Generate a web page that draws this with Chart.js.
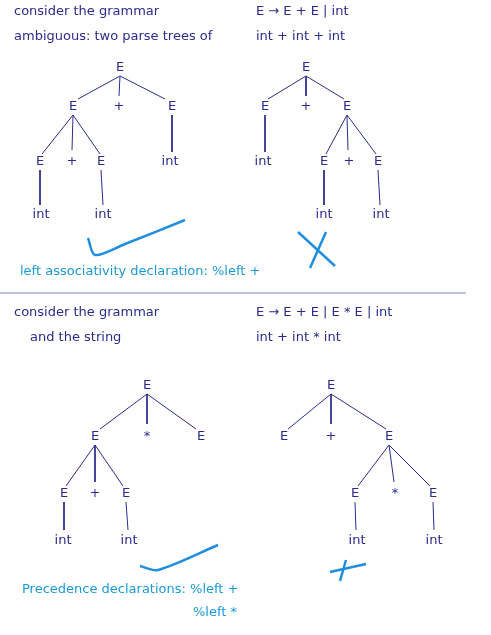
<!DOCTYPE html>
<html><head><meta charset="utf-8">
<script src="https://cdn.jsdelivr.net/npm/chart.js@4"></script>
<style>html,body{margin:0;background:#fff}#wrap{width:491px;height:635px}</style>
</head><body><div id="wrap"><canvas id="c"></canvas></div>
<script>
// text labels: [text, x, y, align, color]
const navy = '#2b2b8c', cyan = '#1a9ad6';
const texts = [
  ['consider the grammar', 14, 12, 'left', navy],
  ['E \u2192 E + E | int', 256, 12, 'left', navy],
  ['ambiguous: two parse trees of', 14, 37, 'left', navy],
  ['int + int + int', 256, 37, 'left', navy],
  ['left associativity declaration: %left +', 20, 272, 'left', cyan],
  ['consider the grammar', 14, 313, 'left', navy],
  ['E \u2192 E + E | E * E | int', 256, 313, 'left', navy],
  ['and the string', 30, 338, 'left', navy],
  ['int + int * int', 256, 338, 'left', navy],
  ['Precedence declarations: %left +', 22, 590, 'left', cyan],
  ['%left *', 193, 613, 'left', cyan]
];
// tree nodes
const nodes = [
  ['E',120,68],['E',73,107],['+',119,107],['E',172,107],['E',40,162],['+',72,162],['E',101,162],['int',170,162],['int',41,215],['int',103,215],
  ['E',306,68],['E',265,107],['+',306,107],['E',347,107],['int',263,162],['E',324,162],['+',349,162],['E',378,162],['int',324,215],['int',381,215],
  ['E',147,386],['E',95,437],['*',147,437],['E',201,437],['E',64,494],['+',95,494],['E',126,494],['int',63,541],['int',129,541],
  ['E',331,386],['E',284,437],['+',331,437],['E',389,437],['E',355,494],['*',395,494],['E',433,494],['int',357,541],['int',434,541]
];
// tree edges as polylines
const edges = [
  [[120,76],[78,99]],[[120,76],[119,96]],[[120,76],[165,99]],
  [[73,115],[42,154]],[[73,115],[72,150]],[[73,115],[100,154]],[[172,115],[172,152]],
  [[40,170],[40,205]],[[101,170],[103,205]],
  [[306,76],[268,99]],[[306,76],[306,96]],[[306,76],[344,99]],
  [[265,115],[265,152]],[[347,115],[326,154]],[[347,115],[348,150]],[[347,115],[376,154]],
  [[324,170],[324,205]],[[378,170],[380,205]],
  [[147,394],[100,429]],[[147,394],[147,424]],[[147,394],[196,429]],
  [[95,445],[66,486]],[[95,445],[95,482]],[[95,445],[123,486]],
  [[64,502],[64,530]],[[126,502],[128,530]],
  [[331,394],[288,429]],[[331,394],[331,424]],[[331,394],[386,429]],
  [[389,445],[358,486]],[[389,445],[394,482]],[[389,445],[430,486]],
  [[355,502],[356,530]],[[433,502],[434,530]]
];
// annotation marks
const marks = [
  [[88,238],[95,255],[125,244],[185,220]],
  [[298,232],[335,266]],[[326,232],[310,268]],
  [[140,566],[158,570],[218,545]],
  [[330,572],[366,564]],[[346,560],[340,581]]
];
const rule = [[0,293],[466,293]];

const pt = p => ({x:p[0], y:p[1]});
const datasets = [];
edges.forEach(e => datasets.push({data:e.map(pt), showLine:true, borderColor:navy, borderWidth:1, pointRadius:0}));
marks.forEach(m => datasets.push({data:m.map(pt), showLine:true, borderColor:'#1f8ee0', borderWidth:2.5, pointRadius:0, tension:0.3}));
datasets.push({data:rule.map(pt), showLine:true, borderColor:'#7a86b8', borderWidth:1, pointRadius:0});

const textPlugin = {
  id:'texts',
  afterDatasetsDraw(chart){
    const {ctx, scales:{x,y}} = chart;
    ctx.save();
    ctx.font = '13px "DejaVu Sans", sans-serif';
    ctx.textBaseline = 'middle';
    texts.forEach(t => { ctx.fillStyle=t[4]; ctx.textAlign=t[3]; ctx.fillText(t[0], x.getPixelForValue(t[1]), y.getPixelForValue(t[2])); });
    ctx.textAlign='center'; ctx.fillStyle=navy;
    nodes.forEach(n => ctx.fillText(n[0], x.getPixelForValue(n[1]), y.getPixelForValue(n[2])));
    ctx.restore();
  }
};

new Chart(document.getElementById('c'), {
  type:'scatter',
  data:{datasets},
  options:{
    responsive:true, maintainAspectRatio:false, animation:false,
    layout:{padding:0},
    plugins:{legend:{display:false}, tooltip:{enabled:false}},
    scales:{
      x:{type:'linear', min:0, max:491, display:false},
      y:{type:'linear', min:0, max:635, reverse:true, display:false}
    }
  },
  plugins:[textPlugin]
});
</script></body></html>
